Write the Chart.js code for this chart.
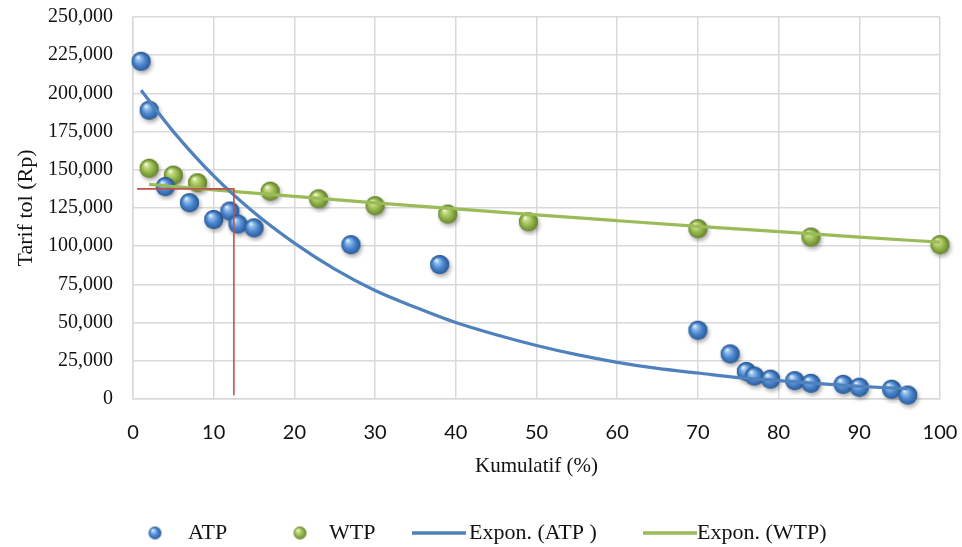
<!DOCTYPE html>
<html>
<head>
<meta charset="utf-8">
<script src="https://cdn.jsdelivr.net/npm/chart.js@4/dist/chart.umd.min.js"></script>
<style>
  html, body { margin: 0; padding: 0; background: #ffffff; }
  #wrap { width: 962px; height: 547px; position: relative; }
</style>
</head>
<body>
<div id="wrap"><canvas id="chart" width="962" height="547"></canvas></div>
<script>
// Ability to pay (ATP): cumulative share of respondents (%) and tariff (Rp)
const atpPercent = [1, 2, 4, 7, 10, 12, 13, 15, 27, 38, 70, 74, 76, 77, 79, 82, 84, 88, 90, 94, 96];
const atpTariff  = [221000, 189000, 139000, 128500, 117500, 123000, 114500, 112000, 101000, 88000,
                    45000, 29500, 18000, 15000, 13000, 12000, 10300, 9600, 7700, 6400, 2600];

// Willingness to pay (WTP)
const wtpPercent = [2, 5, 8, 17, 23, 30, 39, 49, 70, 84, 100];
const wtpTariff  = [151000, 146500, 141500, 136000, 131000, 126500, 121000, 116000, 111500, 106000, 101000];

// Exponential trend lines
const atpTrendX = [1, 5, 10, 15, 20, 25, 30, 35, 40, 45, 50, 55, 60, 65, 70, 75, 80, 85, 90, 96];
const atpTrendY = [202000, 175000, 146000, 122000, 102000, 85000, 71000, 60000, 50000, 42000,
                   35000, 29000, 24000, 20000, 17000, 14000, 12000, 10000, 8300, 6700];
const wtpTrendX = [2, 10, 20, 30, 40, 50, 60, 70, 80, 90, 100];
const wtpTrendY = [140400, 136900, 132600, 128400, 124400, 120500, 116700, 113000, 109500, 106000, 102600];

// Intersection guide (ATP trend meets WTP trend)
const guideX = [0.5, 12.5, 12.5];
const guideY = [137500, 137500, 2500];

// Axis ticks
const xTicks = [0, 10, 20, 30, 40, 50, 60, 70, 80, 90, 100];
const yTicks = [0, 25000, 50000, 75000, 100000, 125000, 150000, 175000, 200000, 225000, 250000];

const legendLabels = ['ATP', 'WTP', 'Expon. (ATP )', 'Expon. (WTP)'];

const BLUE = '#4f81bd';
const GREEN = '#9bbb59';
const RED = '#c0504d';
const GRID = '#d9d9d9';
const SERIF = '"Liberation Serif", "Times New Roman", serif';

function pairs(xs, ys) { return xs.map((x, i) => ({ x: x, y: ys[i] })); }

// Keep the plot box where the layout padding puts it (no extra room for edge labels)
function noEdgePadding(scale) {
  scale.paddingTop = 0;
  scale.paddingBottom = 0;
  scale.paddingLeft = 0;
  scale.paddingRight = 0;
}

// Glossy sphere marker drawn onto a small canvas
function sphere(r, stops, shadow) {
  const pad = 5;
  const size = Math.round(2 * r + 2 * pad);
  const cv = document.createElement('canvas');
  cv.width = size; cv.height = size;
  const g = cv.getContext('2d');
  const c = size / 2;
  if (shadow) {
    g.save();
    g.shadowColor = 'rgba(0,0,0,0.35)';
    g.shadowBlur = 4;
    g.shadowOffsetX = 1.5;
    g.shadowOffsetY = 2.5;
    g.beginPath(); g.arc(c, c, r, 0, Math.PI * 2);
    g.fillStyle = stops[stops.length - 1][1];
    g.fill();
    g.restore();
  }
  const grad = g.createRadialGradient(c - 0.35 * r, c - 0.45 * r, 0.5, c, c + 0.1 * r, r * 1.05);
  stops.forEach(s => grad.addColorStop(s[0], s[1]));
  g.beginPath(); g.arc(c, c, r, 0, Math.PI * 2);
  g.fillStyle = grad;
  g.fill();
  return cv;
}

const blueStops = [[0, '#e6f1fc'], [0.2, '#90bdee'], [0.55, '#4a84cc'], [1, '#24548f']];
const greenStops = [[0, '#f5fadc'], [0.2, '#c4dc84'], [0.55, '#94b64c'], [1, '#5e7b28']];

const blueBall = sphere(9.5, blueStops, true);
const greenBall = sphere(9.5, greenStops, true);
const blueBallSmall = sphere(6.5, blueStops, false);
const greenBallSmall = sphere(6.5, greenStops, false);

// Legend row under the plot
const legendPlugin = {
  id: 'bottomLegend',
  afterDraw(chart) {
    const ctx = chart.ctx;
    const y = 533;
    ctx.save();
    ctx.font = '22px ' + SERIF;
    ctx.fillStyle = '#111111';
    ctx.textBaseline = 'middle';
    ctx.textAlign = 'left';

    ctx.drawImage(blueBallSmall, 155 - blueBallSmall.width / 2, y - blueBallSmall.height / 2);
    ctx.fillText(legendLabels[0], 188, y);

    ctx.drawImage(greenBallSmall, 300 - greenBallSmall.width / 2, y - greenBallSmall.height / 2);
    ctx.fillText(legendLabels[1], 329, y);

    ctx.lineWidth = 3.5;
    ctx.strokeStyle = BLUE;
    ctx.beginPath(); ctx.moveTo(412, y); ctx.lineTo(466, y); ctx.stroke();
    ctx.fillText(legendLabels[2], 469, y);

    ctx.strokeStyle = GREEN;
    ctx.beginPath(); ctx.moveTo(643, y); ctx.lineTo(697, y); ctx.stroke();
    ctx.fillText(legendLabels[3], 697, y);
    ctx.restore();
  }
};

new Chart(document.getElementById('chart'), {
  type: 'scatter',
  data: {
    datasets: [
      {
        label: 'guide',
        type: 'line',
        data: pairs(guideX, guideY),
        borderColor: RED,
        borderWidth: 1.6,
        pointRadius: 0,
        fill: false,
        order: 0
      },
      {
        label: legendLabels[2],
        type: 'line',
        data: pairs(atpTrendX, atpTrendY),
        borderColor: BLUE,
        borderWidth: 3.2,
        pointRadius: 0,
        cubicInterpolationMode: 'monotone',
        fill: false,
        order: 1
      },
      {
        label: legendLabels[3],
        type: 'line',
        data: pairs(wtpTrendX, wtpTrendY),
        borderColor: GREEN,
        borderWidth: 3.2,
        pointRadius: 0,
        cubicInterpolationMode: 'monotone',
        fill: false,
        order: 1
      },
      {
        label: legendLabels[0],
        data: pairs(atpPercent, atpTariff),
        pointStyle: blueBall,
        pointRadius: 10,
        clip: false,
        order: 2
      },
      {
        label: legendLabels[1],
        data: pairs(wtpPercent, wtpTariff),
        pointStyle: greenBall,
        pointRadius: 10,
        clip: false,
        order: 2
      }
    ]
  },
  options: {
    responsive: false,
    animation: false,
    devicePixelRatio: 1,
    layout: { padding: { left: 0, right: 22, top: 17, bottom: 0 } },
    plugins: {
      legend: { display: false },
      tooltip: { enabled: false }
    },
    scales: {
      x: {
        type: 'linear',
        min: 0,
        max: 100,
        afterBuildTicks(scale) { scale.ticks = xTicks.map(v => ({ value: v })); },
        afterFit(scale) { scale.height = 148; noEdgePadding(scale); },
        grid: { color: GRID, lineWidth: 1.5, drawTicks: false },
        border: { color: GRID, width: 1.5 },
        ticks: {
          padding: 22,
          color: '#111111',
          font: { family: 'Lato, "Open Sans", sans-serif', size: 20 }
        },
        title: {
          display: true,
          text: 'Kumulatif (%)',
          color: '#111111',
          font: { family: SERIF, size: 21 },
          padding: { top: 0, bottom: 68 }
        }
      },
      y: {
        type: 'linear',
        min: 0,
        max: 250000,
        afterBuildTicks(scale) { scale.ticks = yTicks.map(v => ({ value: v })); },
        afterFit(scale) { scale.width = 133; noEdgePadding(scale); },
        grid: { color: GRID, lineWidth: 1.5, drawTicks: false },
        border: { color: GRID, width: 1.5 },
        ticks: {
          padding: 20,
          color: '#111111',
          font: { family: SERIF, size: 20 },
          callback: v => v.toLocaleString('en-US')
        },
        title: {
          display: true,
          text: 'Tarif tol (Rp)',
          color: '#111111',
          font: { family: SERIF, size: 22 },
          padding: { top: 13, bottom: 0 }
        }
      }
    }
  },
  plugins: [legendPlugin]
});
</script>
</body>
</html>
